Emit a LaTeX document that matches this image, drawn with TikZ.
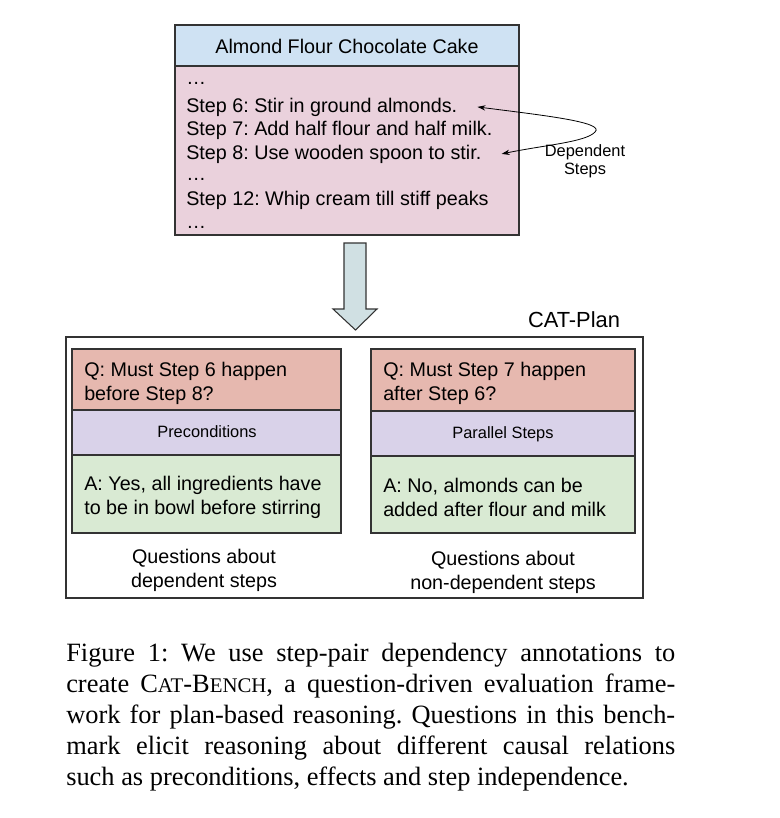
\documentclass[tikz,border=0pt]{standalone}
\usepackage{fontspec}
\setmainfont{Liberation Sans}
\newfontfamily\capfont{Liberation Serif}
\usetikzlibrary{arrows.meta}
\definecolor{titleblue}{HTML}{CFE2F3}
\definecolor{recipepink}{HTML}{EAD1DC}
\definecolor{questred}{HTML}{E6B8AF}
\definecolor{relpurple}{HTML}{D9D2E9}
\definecolor{answergreen}{HTML}{D9EAD3}
\definecolor{arrowcyan}{HTML}{D0E0E3}
\definecolor{edgegray}{HTML}{333333}
\newcommand{\smallcap}[1]{{\fontsize{15.6pt}{23.25pt}\selectfont #1}}
\frenchspacing
\begin{document}
\begin{tikzpicture}[x=0.75pt,y=-0.75pt,
 boxline/.style={draw=edgegray,line width=0.8pt},
 txt/.style={inner sep=0pt,font=\fontsize{14.8pt}{18pt}\selectfont},
 steptxt/.style={txt,anchor=base west},
 qtxt/.style={txt,anchor=west,align=left},
 undertxt/.style={txt,align=center},
 smalltxt/.style={inner sep=0pt,font=\fontsize{12.3pt}{13.5pt}\selectfont,align=center}]
 \useasboundingbox (0,0) rectangle (780,818);
 % recipe
 \draw[boxline,fill=titleblue](175,25) rectangle (519,66);
 \draw[boxline,fill=recipepink](175,66) rectangle (519,235);
 \node[txt] (title) at (347,46) {Almond Flour Chocolate Cake};
 \node[steptxt] (dotsa) at (186,84) {…};
 \node[steptxt] (step6) at (186,112) {Step 6: Stir in ground almonds.};
 \node[steptxt] (step7) at (186,135) {Step 7: Add half flour and half milk.};
 \node[steptxt] (step8) at (186,159) {Step 8: Use wooden spoon to stir.};
 \node[steptxt] (dotsb) at (186,180) {…};
 \node[steptxt] (step12) at (186,205) {Step 12: Whip cream till stiff peaks};
 \node[steptxt] (dotsc) at (186,228) {…};
 % dependent steps
 \coordinate (dep) at (595,132);
 \draw[line width=0.6pt,{Stealth[length=6pt,width=4pt]}-{Stealth[length=6pt,width=4pt]}]
  ([xshift=15pt]step6.east) .. controls (540,115) and (606,122) .. (dep)
  .. controls (586,142) and (545,145) .. ([xshift=15pt]step8.east);
 \node[smalltxt] (deplabel) at (585,161) {Dependent\\Steps};
 % big arrow
 \draw[boxline,fill=arrowcyan](344,243)--(366,243)--(366,309)--(377,309)--(355.5,330)--(333,309)--(344,309)--cycle;
 % CAT-Plan
 \draw[boxline](66,337) rectangle (643,598);
 \node[inner sep=0pt,font=\fontsize{16.4pt}{19pt}\selectfont] (catplan) at (574,320) {CAT-Plan};
 \draw[boxline,fill=questred](72,349) rectangle (341,410);
 \draw[boxline,fill=relpurple](72,410) rectangle (341,455);
 \draw[boxline,fill=answergreen](72,455) rectangle (341,533);
 \draw[boxline,fill=questred](371,349) rectangle (635,411);
 \draw[boxline,fill=relpurple](371,411) rectangle (635,456);
 \draw[boxline,fill=answergreen](371,456) rectangle (635,533);
 \node[qtxt] (qleft) at (84,383) {Q: Must Step 6 happen\\before Step 8?};
 \node[smalltxt] (precond) at (207,432) {Preconditions};
 \node[qtxt] (aleft) at (84,497) {A: Yes, all ingredients have\\to be in bowl before stirring};
 \node[undertxt] (dependent) at (204,570) {Questions about\\dependent steps};
 \node[qtxt] (qright) at (383,383) {Q: Must Step 7 happen\\after Step 6?};
 \node[smalltxt] (parallel) at (503,434) {Parallel Steps};
 \node[qtxt] (aright) at (383,497) {A: No, almonds can be\\added after flour and milk};
 \node[undertxt] (nondependent) at (503,572) {Questions about\\non-dependent steps};
 % caption
 \node[anchor=north west,inner sep=0pt,text width=456.75pt,align=justify,
  font=\capfont\fontsize{19.8pt}{23.25pt}\selectfont] (caption) at (66,643)
  {\hyphenpenalty=10000 Figure 1: We use step-pair dependency annotations to\linebreak
  create C\smallcap{AT}-B\smallcap{ENCH}, a question-driven evaluation frame-\linebreak
  work for plan-based reasoning. Questions in this bench-\linebreak
  mark elicit reasoning about different causal relations\linebreak
  such as preconditions, effects and step independence.};
\end{tikzpicture}
\end{document}
